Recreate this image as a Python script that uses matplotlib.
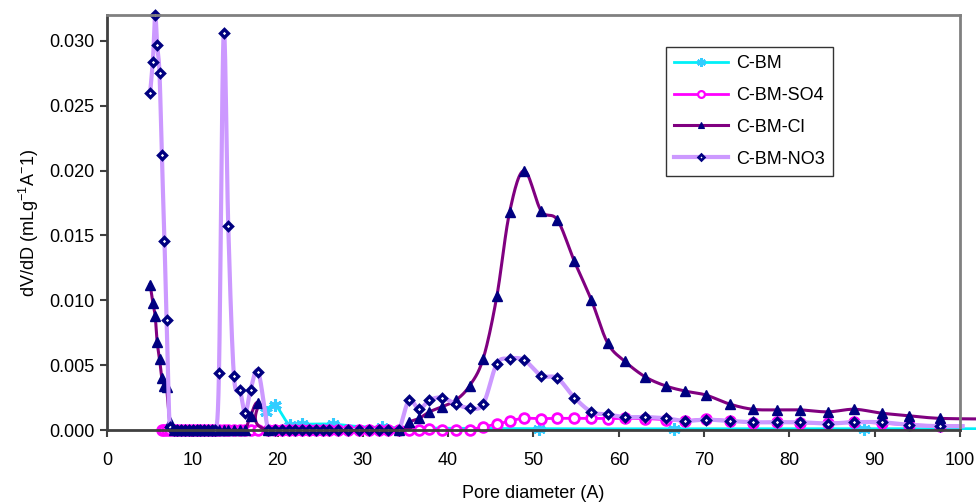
import numpy as np
import matplotlib
matplotlib.use("Agg")
import matplotlib.pyplot as plt
from matplotlib.lines import Line2D
from matplotlib.patches import Rectangle

plt.rcParams['font.family'] = ['Liberation Sans', 'DejaVu Sans']
plt.rcParams['mathtext.fontset'] = 'custom'
plt.rcParams['mathtext.rm'] = 'Liberation Sans'
plt.rcParams['mathtext.it'] = 'Liberation Sans'

# pore diameter grid (A) shared by the three treated samples
diam = [5.06, 5.38, 5.65, 5.88, 6.16, 6.43, 6.74, 6.98,
        7.36, 7.8, 8.25, 8.7, 9.15, 9.6, 10.05, 10.5, 10.95, 11.4, 11.85, 12.3, 12.7,
        13.13, 13.68, 14.22, 14.88, 15.59, 16.21, 16.83, 17.73,
        18.9, 19.7, 20.5, 21.3, 22.1, 22.9, 23.7, 24.5, 25.3, 26.0, 27.1, 28.3, 29.5,
        30.7, 31.9, 33.0, 34.2,
        35.4, 36.6, 37.8, 39.3, 40.9, 42.5, 44.1, 45.7, 47.2, 48.9, 50.9, 52.8, 54.8,
        56.8, 58.7,
        60.7, 63.1, 65.5, 67.8, 70.2, 73.0, 75.7, 78.5, 81.3, 84.5, 87.6, 90.8, 94.0,
        97.6, 103.0]

nan = np.nan
no3 = [0.0260, 0.0284, 0.0320, 0.0297, 0.0275, 0.0212, 0.0146, 0.0085,
       0.0002, 0, 0, 0, 0, 0, 0, 0, 0, 0, 0, 0, 0,
       0.0044, 0.0306, 0.0157, 0.0042, 0.0031, 0.0013, 0.0031, 0.0045,
       0, 0, 0, 0, 0, 0, 0, 0, 0, 0, 0, 0, 0,
       0, 0, 0, 0,
       0.0023, 0.0016, 0.0023, 0.0025, 0.0020, 0.0017, 0.0020, 0.0051, 0.0055, 0.0054,
       0.0042, 0.0040, 0.0025, 0.0014, 0.0012,
       0.0010, 0.0010, 0.0009, 0.0007, 0.0008, 0.0007, 0.0006, 0.0006, 0.0006, 0.0005,
       0.0006, 0.0006, 0.0004, 0.0003, 0.0003]

cl = [0.0112, 0.0098, 0.0088, 0.0068, 0.0055, 0.0040, 0.0034, 0.0033,
      0.0006, 0, 0, 0, 0, 0, 0, 0, 0, 0, 0, 0, 0,
      0, 0, 0, 0, 0, 0, 0.0011, 0.0021,
      0, nan, nan, nan, nan, nan, nan, nan, nan, nan, nan, nan, nan,
      nan, nan, nan, 0,
      0.0006, 0.0009, 0.0014, 0.0018, 0.0023, 0.0034, 0.0055, 0.0103, 0.0168, 0.0200,
      0.0169, 0.0162, 0.0130, 0.0100, 0.0067,
      0.0053, 0.0041, 0.0034, 0.0030, 0.0027, 0.0020, 0.0016, 0.00155, 0.00155, 0.0014,
      0.0016, 0.0013, 0.0011, 0.0009, 0.00085]

so4 = [nan, nan, nan, nan, nan, 0, 0, 0,
       0, 0, 0, 0, 0, 0, 0, 0, 0, 0, 0, 0, 0,
       0, 0, 0, 0, 0, 0, 0, 0,
       0, 0, 0, 0, 0, 0, 0, 0, 0, 0, 0, 0, 0,
       0, 0, 0, 0,
       0, 0, 0.00005, 0, 0, 0, 0.00026, 0.00044, 0.0007, 0.0009,
       0.00088, 0.0009, 0.0009, 0.0009, 0.00088,
       0.0009, 0.00088, 0.0008, 0.00072, 0.00083, 0.00072, 0.00057, 0.00062, 0.00057, 0.00052,
       0.00062, 0.00052, 0.00041, 0.00033, 0.0003]

# untreated sample has its own, sparser grid
diam_cbm = [18.6, 19.7, 21.4, 22.9, 26.5, 32.2, 50.6, 66.5, 88.8, 103.0]
cbm = [0.00142, 0.00193, 0.0004, 0.00045, 0.00045, 0.0002, 0.0001, 0.0001, 0.0001, 0.0001]


def smooth(x, y, n=16):
    # Excel-like smoothed line (cubic Bezier through points)
    x = np.asarray(x, float)
    y = np.asarray(y, float)
    ok = ~np.isnan(y)
    p = np.column_stack([x[ok], y[ok]])
    out = [p[0]]
    t = np.linspace(0, 1, n)[1:, None]
    for i in range(len(p) - 1):
        p0 = p[i - 1] if i > 0 else p[i]
        p1, p2 = p[i], p[i + 1]
        p3 = p[i + 2] if i + 2 < len(p) else p[i + 1]
        c1 = p1 + (p2 - p0) / 6
        c2 = p2 - (p3 - p1) / 6
        seg = (1 - t) ** 3 * p1 + 3 * (1 - t) ** 2 * t * c1 + 3 * (1 - t) * t ** 2 * c2 + t ** 3 * p2
        out.extend(seg)
    out = np.array(out)
    return out[:, 0], out[:, 1]


fig = plt.figure(figsize=(9.76, 5.03), dpi=100)
ax = fig.add_axes([0.1096, 0.1451, 0.8740, 0.8250])

clip = Rectangle((0, 0), 1.03, 1.0, transform=ax.transAxes)

series = [
    ("C-BM", diam_cbm, cbm, '#00F0F8', 2.0, dict(marker=(6, 2, 0), ms=9, mfc='#33CCFF', mec='#33CCFF', mew=2.2)),
    ("C-BM-SO4", diam, so4, '#FF00FF', 2.0, dict(marker='o', ms=7, mfc='white', mec='#FF00FF', mew=2.0)),
    ("C-BM-Cl", diam, cl, '#800080', 2.2, dict(marker='^', ms=6.5, mfc='#000080', mec='#000080', mew=1.0)),
    ("C-BM-NO3", diam, no3, '#CC99FF', 3.0, dict(marker='D', ms=4.2, mfc='white', mec='#000080', mew=2.4)),
]

handles = []
for name, xs, ys, col, lw, mk in series:
    sx, sy = smooth(xs, ys)
    ln, = ax.plot(sx, sy, color=col, lw=lw, solid_joinstyle='round')
    ln.set_clip_path(clip)
    xs_a = np.asarray(xs, float)
    ys_a = np.asarray(ys, float)
    keep = (xs_a <= 100) & ~np.isnan(ys_a)
    ax.plot(xs_a[keep], ys_a[keep], ls='none', clip_on=False, **mk)
    lmk = dict(mk)
    lmk['ms'] = mk['ms'] * 0.7
    lmk['mew'] = mk['mew'] * 0.8
    handles.append(Line2D([], [], color=col, lw=lw, label=name, **lmk))

ax.set_xlim(0, 100)
ax.set_ylim(0, 0.032)
ax.set_xticks(np.arange(0, 101, 10))
ax.set_yticks(np.arange(0, 0.0301, 0.005))
ax.set_yticklabels([f"{v:.3f}" for v in np.arange(0, 0.0301, 0.005)])
ax.tick_params(axis='both', labelsize=13, direction='out', length=5, width=1.5, color='#404040')
ax.tick_params(axis='x', pad=11)
ax.tick_params(axis='y', pad=4)

for s in ['left', 'bottom']:
    ax.spines[s].set_color('#404040')
    ax.spines[s].set_linewidth(2)
for s in ['top', 'right']:
    ax.spines[s].set_color('#808080')
    ax.spines[s].set_linewidth(2)

ax.set_xlabel("Pore diameter (A)", fontsize=13, labelpad=11)
ax.set_ylabel(r"dV/dD (mLg$^{-1}$A$^{-}$1)", fontsize=13, labelpad=6)

leg = ax.legend(handles=handles, loc='upper left', bbox_to_anchor=(0.655, 0.923),
                borderaxespad=0, fontsize=13, frameon=True, fancybox=False, edgecolor='black',
                handlelength=3.0, labelspacing=0.82, borderpad=0.45, handletextpad=0.45)
leg.get_frame().set_linewidth(1.0)

fig.savefig("out.png", dpi=100)
